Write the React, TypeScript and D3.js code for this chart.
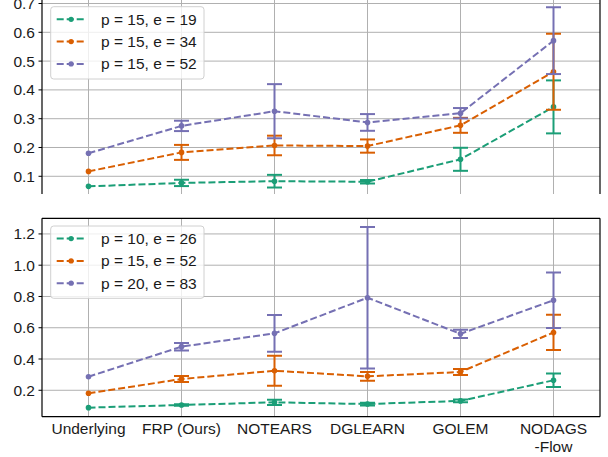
import React from "react";
import * as d3 from "d3";

const categories = ["Underlying", "FRP (Ours)", "NOTEARS", "DGLEARN", "GOLEM", "NODAGS\n-Flow"];

const topLabels = ["p = 15, e = 19", "p = 15, e = 34", "p = 15, e = 52"];
const topMeanA = [0.065, 0.077, 0.083, 0.081, 0.159, 0.341];
const topErrA = [null, 0.011, 0.022, 0.006, 0.040, 0.092];
const topMeanB = [0.117, 0.183, 0.207, 0.205, 0.277, 0.463];
const topErrB = [null, 0.026, 0.034, 0.023, 0.026, 0.132];
const topMeanC = [0.18, 0.275, 0.326, 0.287, 0.319, 0.571];
const topErrC = [null, 0.018, 0.094, 0.029, 0.018, 0.116];
const topTicks = [0.1, 0.2, 0.3, 0.4, 0.5, 0.6, 0.7];

const botLabels = ["p = 10, e = 26", "p = 15, e = 52", "p = 20, e = 83"];
const botMeanA = [0.089, 0.106, 0.123, 0.112, 0.132, 0.264];
const botErrA = [null, 0.005, 0.017, 0.009, 0.009, 0.043];
const botMeanB = [0.181, 0.272, 0.325, 0.289, 0.317, 0.57];
const botErrB = [null, 0.019, 0.096, 0.028, 0.019, 0.113];
const botMeanC = [0.287, 0.479, 0.564, 0.792, 0.561, 0.776];
const botErrC = [null, 0.024, 0.117, 0.452, 0.026, 0.178];
const botTicks = [0.2, 0.4, 0.6, 0.8, 1.0, 1.2];

const colors = ["#1b9e77", "#d95f02", "#7570b3"];

const W = 608;
const H = 457;
const LEFT = 42;
const RIGHT = 600;
const FONT = "'Liberation Sans', Arial, Helvetica, sans-serif";
const FS = 15.5;

const x = d3.scaleLinear().domain([-0.5, 5.5]).range([LEFT, RIGHT]);

type Series = { label: string; mean: number[]; err: (number | null)[] };

function Panel(props: {
  y: d3.ScaleLinear<number, number>;
  top: number;
  bottom: number;
  ticks: number[];
  series: Series[];
  legendTop: number;
  bottomSpine: boolean;
  topSpine: boolean;
  xLabels: boolean;
}) {
  const { y, top, bottom, ticks, series, legendTop, bottomSpine, topSpine, xLabels } = props;
  const line = d3
    .line<number>()
    .x((_, i) => x(i))
    .y((d) => y(d));
  const clipId = "clip" + Math.round(top);
  return (
    <g>
      <defs>
        <clipPath id={clipId}>
          <rect x={LEFT} y={top} width={RIGHT - LEFT} height={bottom - top} />
        </clipPath>
      </defs>
      {ticks.map((t) => (
        <line key={"hy" + t} x1={LEFT} x2={RIGHT} y1={y(t)} y2={y(t)} stroke="#b0b0b0" strokeWidth={1} />
      ))}
      {categories.map((c, i) => (
        <line key={"vx" + i} x1={x(i)} x2={x(i)} y1={top} y2={bottom} stroke="#b0b0b0" strokeWidth={1} />
      ))}
      <g clipPath={`url(#${clipId})`}>
        {series.map((s, si) => (
          <g key={si}>
            <path d={line(s.mean) || ""} fill="none" stroke={colors[si]} strokeWidth={2} strokeDasharray="7 3" />
            {s.mean.map((m, i) => {
              const e = s.err[i];
              if (e == null) return null;
              const cx = x(i);
              return (
                <g key={i} stroke={colors[si]} strokeWidth={2}>
                  <line x1={cx} x2={cx} y1={y(m - e)} y2={y(m + e)} />
                  <line x1={cx - 7.5} x2={cx + 7.5} y1={y(m - e)} y2={y(m - e)} />
                  <line x1={cx - 7.5} x2={cx + 7.5} y1={y(m + e)} y2={y(m + e)} />
                </g>
              );
            })}
            {s.mean.map((m, i) => (
              <circle key={"c" + i} cx={x(i)} cy={y(m)} r={2.8} fill={colors[si]} />
            ))}
          </g>
        ))}
      </g>
      <line x1={LEFT} x2={LEFT} y1={top} y2={bottom} stroke="#000" strokeWidth={1.2} />
      <line x1={RIGHT} x2={RIGHT} y1={top} y2={bottom} stroke="#000" strokeWidth={1.2} />
      {bottomSpine && <line x1={LEFT} x2={RIGHT} y1={bottom} y2={bottom} stroke="#000" strokeWidth={1.2} />}
      {topSpine && <line x1={LEFT} x2={RIGHT} y1={top} y2={top} stroke="#000" strokeWidth={1.2} />}
      {ticks.map((t) => (
        <g key={"t" + t}>
          <line x1={LEFT - 3.5} x2={LEFT} y1={y(t)} y2={y(t)} stroke="#000" strokeWidth={1} />
          <text x={LEFT - 7} y={y(t) + 5.5} textAnchor="end" fontSize={FS} fontFamily={FONT} fill="#1a1a1a">
            {t.toFixed(1)}
          </text>
        </g>
      ))}
      {xLabels &&
        categories.map((c, i) =>
          c.split("\n").map((ln, k) => (
            <text key={"xl" + i + "_" + k} x={x(i)} y={bottom + 17.5 + k * 17.5} textAnchor="middle" fontSize={FS} fontFamily={FONT} fill="#1a1a1a">
              {ln}
            </text>
          ))
        )}
      <g>
        <rect x={50.7} y={legendTop} width={153.3} height={72.3} rx={3} fill="#fff" fillOpacity={0.8} stroke="#d0d0d0" strokeWidth={1} />
        {series.map((s, si) => {
          const ly = legendTop + 12.6 + 22.3 * si;
          return (
            <g key={"lg" + si}>
              <line x1={56.7} x2={85.5} y1={ly} y2={ly} stroke={colors[si]} strokeWidth={2} strokeDasharray="7 3" />
              <circle cx={71.1} cy={ly} r={2.6} fill={colors[si]} />
              <text x={101} y={ly + 5.5} fontSize={FS} fontFamily={FONT} fill="#1a1a1a">
                {s.label}
              </text>
            </g>
          );
        })}
      </g>
    </g>
  );
}

export default function App() {
  const yTop = d3.scaleLinear().domain([0.0385, 0.716]).range([194, -1.1]);
  const yBot = d3.scaleLinear().domain([0.031, 1.3]).range([416.7, 218.3]);
  const topSeries: Series[] = [
    { label: topLabels[0], mean: topMeanA, err: topErrA },
    { label: topLabels[1], mean: topMeanB, err: topErrB },
    { label: topLabels[2], mean: topMeanC, err: topErrC },
  ];
  const botSeries: Series[] = [
    { label: botLabels[0], mean: botMeanA, err: botErrA },
    { label: botLabels[1], mean: botMeanB, err: botErrB },
    { label: botLabels[2], mean: botMeanC, err: botErrC },
  ];
  return (
    <div style={{ position: "fixed", left: 0, top: 0, width: W, height: H, background: "#fff" }}>
      <svg width={W} height={H} viewBox={`0 0 ${W} ${H}`} style={{ display: "block" }}>
        <rect x={0} y={0} width={W} height={H} fill="#fff" />
        <Panel y={yTop} top={-1.1} bottom={194} ticks={topTicks} series={topSeries} legendTop={6.7} bottomSpine={false} topSpine={true} xLabels={false} />
        <Panel y={yBot} top={218.3} bottom={416.7} ticks={botTicks} series={botSeries} legendTop={226} bottomSpine={true} topSpine={true} xLabels={true} />
      </svg>
    </div>
  );
}
